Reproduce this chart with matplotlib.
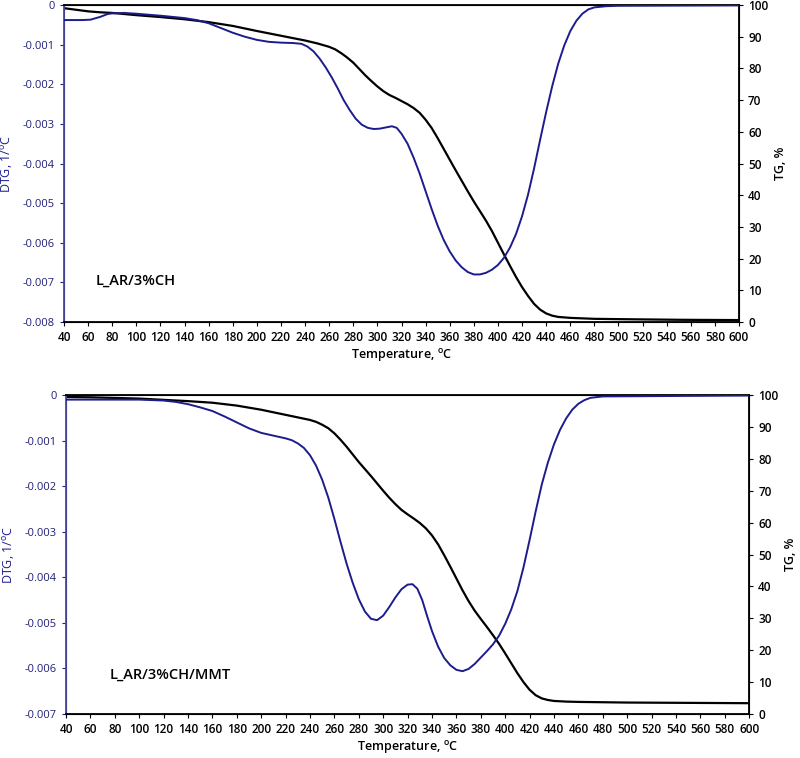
import numpy as np
import matplotlib
matplotlib.use("Agg")
import matplotlib.pyplot as plt
import matplotlib.ticker as ticker

plt.rcParams['font.family'] = ['Open Sans', 'DejaVu Sans']

# ------------------------------------------------------------
# Data (temperature in degC, DTG in 1e-3 1/degC)
# ------------------------------------------------------------
t_dtg1 = [40, 55, 62, 70, 76, 80, 90, 100, 120, 140, 150, 160, 170, 180, 190,
          200, 210, 220, 230, 237, 242, 247, 252, 257, 262, 267, 272, 277, 282,
          287, 292, 297, 302, 307, 312, 316, 320, 325, 330, 335, 340, 345, 350,
          355, 360, 365, 370, 375, 380, 385, 390, 395, 400, 405, 410, 415, 420,
          425, 430, 435, 440, 445, 450, 455, 460, 465, 470, 475, 480, 490, 500,
          600]
dtg1 = [-0.38, -0.38, -0.37, -0.30, -0.23, -0.21, -0.20, -0.22, -0.27, -0.33,
        -0.38, -0.46, -0.58, -0.70, -0.80, -0.88, -0.93, -0.95, -0.96, -0.98,
        -1.05, -1.17, -1.35, -1.57, -1.82, -2.10, -2.40, -2.65, -2.87, -3.02,
        -3.10, -3.13, -3.12, -3.09, -3.06, -3.10, -3.25, -3.50, -3.85, -4.25,
        -4.70, -5.15, -5.57, -5.93, -6.22, -6.45, -6.62, -6.74, -6.80, -6.80,
        -6.76, -6.68, -6.56, -6.38, -6.12, -5.78, -5.33, -4.78, -4.12, -3.40,
        -2.70, -2.05, -1.48, -1.02, -0.66, -0.40, -0.22, -0.11, -0.06, -0.03,
        -0.02, -0.01]

t_tg1 = [40, 50, 60, 70, 80, 100, 120, 140, 160, 180, 200, 220, 240, 250, 260,
         265, 270, 275, 280, 285, 290, 295, 300, 305, 310, 315, 320, 325, 330,
         335, 340, 345, 350, 355, 360, 365, 370, 375, 380, 385, 390, 395, 400,
         405, 410, 415, 420, 425, 430, 435, 440, 445, 450, 460, 480, 500, 550,
         600]
tg1 = [99.0, 98.5, 98.0, 97.7, 97.5, 96.8, 96.2, 95.5, 94.6, 93.4, 91.8, 90.3,
       88.8, 87.9, 86.8, 86.0, 84.8, 83.4, 81.8, 79.8, 77.8, 76.0, 74.3, 72.8,
       71.6, 70.7, 69.7, 68.7, 67.5, 66.0, 63.8, 61.2, 58.0, 54.6, 51.2, 47.8,
       44.5, 41.2, 38.0, 35.0, 32.0, 28.7, 25.0, 21.3, 17.7, 14.2, 11.0, 8.2,
       5.7, 3.9, 2.7, 2.0, 1.6, 1.3, 1.0, 0.9, 0.7, 0.6]

t_dtg2 = [40, 100, 120, 130, 140, 150, 160, 170, 180, 190, 200, 210, 220, 225,
          230, 235, 240, 245, 250, 255, 260, 265, 270, 275, 280, 285, 290, 295,
          300, 305, 310, 315, 320, 324, 328, 332, 336, 340, 345, 350, 355, 360,
          365, 370, 375, 380, 385, 390, 395, 400, 405, 410, 415, 420, 425, 430,
          435, 440, 445, 450, 455, 460, 465, 470, 480, 600]
dtg2 = [-0.10, -0.10, -0.12, -0.15, -0.20, -0.27, -0.35, -0.47, -0.60, -0.73,
        -0.83, -0.89, -0.95, -0.99, -1.06, -1.16, -1.32, -1.55, -1.86, -2.25,
        -2.72, -3.22, -3.70, -4.12, -4.48, -4.75, -4.91, -4.94, -4.84, -4.65,
        -4.44, -4.26, -4.16, -4.15, -4.25, -4.50, -4.85, -5.18, -5.52, -5.77,
        -5.93, -6.03, -6.06, -6.01, -5.90, -5.76, -5.62, -5.47, -5.28, -5.02,
        -4.70, -4.30, -3.78, -3.18, -2.55, -1.96, -1.48, -1.08, -0.76, -0.51,
        -0.32, -0.19, -0.11, -0.06, -0.03, -0.01]

t_tg2 = [40, 60, 80, 100, 120, 140, 160, 180, 200, 220, 230, 240, 245, 250,
         255, 260, 265, 270, 275, 280, 285, 290, 295, 300, 305, 310, 315, 320,
         325, 330, 335, 340, 345, 350, 355, 360, 365, 370, 375, 380, 385, 390,
         395, 400, 405, 410, 415, 420, 425, 430, 435, 440, 450, 460, 500, 550,
         600]
tg2 = [99.4, 99.3, 99.1, 98.9, 98.5, 98.1, 97.6, 96.7, 95.4, 93.8, 93.0, 92.2,
       91.6, 90.7, 89.6, 88.0, 86.0, 83.8, 81.4, 79.0, 76.8, 74.6, 72.3, 70.0,
       67.8, 65.8, 64.0, 62.6, 61.3, 59.9, 58.2, 56.0, 53.2, 49.8, 46.2, 42.5,
       38.8, 35.4, 32.4, 29.8, 27.3, 24.7, 22.0, 19.0, 15.9, 12.8, 10.0, 7.6,
       5.9, 4.9, 4.4, 4.1, 3.9, 3.8, 3.6, 3.5, 3.4]

samples = ["L_AR/3%CH", "L_AR/3%CH/MMT"]

BLUE = '#1c1c8c'
NAVY = '#20207a'


def draw_panel(fig, rect, t_d, d, t_g, g, ymin, label, label_pos):
    ax = fig.add_axes(rect)
    ax.plot(t_d, np.array(d) * 1e-3, color=BLUE, linewidth=1.4, zorder=3)
    ax.set_xlim(40, 600)
    ax.set_ylim(ymin, 0)
    ax.xaxis.set_major_locator(ticker.MultipleLocator(20))
    ax.yaxis.set_major_locator(ticker.MultipleLocator(0.001))
    ax.yaxis.set_major_formatter(ticker.FuncFormatter(
        lambda v, p: '0' if abs(v) < 1e-9 else f'{v:.3f}'))
    ax.tick_params(axis='y', colors=NAVY, labelsize=8, length=3)
    ax.tick_params(axis='x', labelsize=8.5, length=3)
    for lab in ax.get_xticklabels():
        lab.set_fontweight('semibold')
    ax.spines['left'].set_color('#4a4aa0')
    ax.spines['left'].set_linewidth(1.3)
    ax.spines['bottom'].set_linewidth(1.3)
    ax.spines['top'].set_linewidth(1.3)
    ax.set_ylabel('DTG, 1/$^{\\mathregular{o}}$C', color=BLUE, fontsize=9,
                  labelpad=6)
    ax.set_xlabel('Temperature, $^{\\mathregular{o}}$C', fontsize=9,
                  fontweight='semibold', labelpad=2)
    ax.text(label_pos[0], label_pos[1], label, fontsize=10.5, va='center',
            ha='left', fontweight='semibold')

    ax2 = ax.twinx()
    ax2.plot(t_g, g, color='black', linewidth=1.6, zorder=2)
    ax2.set_ylim(0, 100)
    ax2.yaxis.set_major_locator(ticker.MultipleLocator(10))
    ax2.tick_params(axis='y', labelsize=8.5, length=3)
    for lab in ax2.get_yticklabels():
        lab.set_fontweight('semibold')
    ax2.spines['right'].set_linewidth(1.3)
    ax2.set_ylabel('TG, %', fontsize=9, fontweight='semibold', labelpad=4)
    ax.set_zorder(ax2.get_zorder() + 1)
    ax.patch.set_visible(False)
    return ax, ax2


fig = plt.figure(figsize=(8, 7.58), dpi=100)

draw_panel(fig, [0.080, 0.5752, 0.8438, 0.4182], t_dtg1, dtg1, t_tg1, tg1,
           -0.008, samples[0], (66, -0.00697))
draw_panel(fig, [0.0825, 0.058, 0.854, 0.4208], t_dtg2, dtg2, t_tg2, tg2,
           -0.007, samples[1], (76, -0.00614))

fig.savefig('out.png', dpi=100)
